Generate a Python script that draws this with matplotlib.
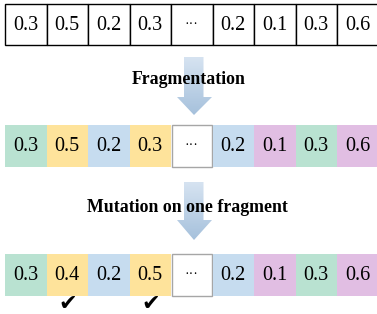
import matplotlib
matplotlib.use("Agg")
import matplotlib.pyplot as plt
import numpy as np
from matplotlib.patches import Rectangle, Polygon
from matplotlib.colors import LinearSegmentedColormap

# values in each row
original = ["0.3", "0.5", "0.2", "0.3", "···", "0.2", "0.1", "0.3", "0.6"]
fragmented = ["0.3", "0.5", "0.2", "0.3", "···", "0.2", "0.1", "0.3", "0.6"]
mutated = ["0.3", "0.4", "0.2", "0.5", "···", "0.2", "0.1", "0.3", "0.6"]
# fragment group of each cell
groups = ["green", "yellow", "blue", "yellow", "none", "blue", "purple", "green", "purple"]
changed = [1, 3]
step_labels = ["Fragmentation", "Mutation on one fragment"]

palette = {"green": "#b9e2d1", "yellow": "#fee39b", "blue": "#c6dcef",
           "purple": "#e1bee3", "none": "white"}

W, H = 377, 314
fig = plt.figure(figsize=(W / 100, H / 100), dpi=100)
ax = fig.add_axes([0, 0, 1, 1])
ax.set_xlim(0, W)
ax.set_ylim(H, 0)
ax.axis("off")

x0, cw = 5, 41.5
num_font = dict(family="Liberation Serif", fontsize=14.5, ha="center")


def draw_row(vals, y, h, colored):
    for i, v in enumerate(vals):
        x = x0 + i * cw
        if colored:
            g = groups[i]
            if g == "none":
                ax.add_patch(Rectangle((x + 0.5, y + 0.5), cw - 1, h - 1, facecolor="white",
                                       edgecolor="#a6a6a6", lw=1.0))
            else:
                ax.add_patch(Rectangle((x, y), cw, h, facecolor=palette[g], edgecolor="none"))
        else:
            ax.add_patch(Rectangle((x, y), cw, h, facecolor="white", edgecolor="black", lw=1.0))
        if v == "···":
            ax.text(x + cw / 2, y + h / 2 + 3.5, v, family="Liberation Serif", fontsize=10,
                    ha="center", va="baseline")
        else:
            ax.text(x + cw / 2, y + h / 2 + 1, v, va="center", **num_font)


def draw_arrow(top, head_top, tip):
    cx = 194
    pts = [(cx - 10, top), (cx + 9.5, top), (cx + 9.5, head_top), (cx + 18, head_top),
           (cx, tip), (cx - 17, head_top), (cx - 10, head_top)]
    poly = Polygon(pts, closed=True, facecolor="none", edgecolor="none")
    ax.add_patch(poly)
    grad = np.linspace(0, 1, 100).reshape(-1, 1)
    cmap = LinearSegmentedColormap.from_list("g", ["#d6e3f1", "#a6c1dc"])
    im = ax.imshow(grad, extent=(cx - 18, cx + 18, tip, top), cmap=cmap, aspect="auto", zorder=1)
    im.set_clip_path(poly)


draw_row(original, 4, 41, False)
draw_arrow(57, 97, 115)
ax.text(189, 79, step_labels[0], family="Liberation Serif", fontweight="bold",
        fontsize=12.8, ha="center", va="center", zorder=3)
draw_row(fragmented, 124.5, 42.5, True)
draw_arrow(182, 220, 240)
ax.text(187, 207, step_labels[1], family="Liberation Serif", fontweight="bold",
        fontsize=12.8, ha="center", va="center", zorder=3)
draw_row(mutated, 253.5, 42.5, True)

for i in changed:
    ax.text(x0 + i * cw + cw / 2 + 0.5, 304.5, "✔", family="DejaVu Sans", fontsize=16,
            ha="center", va="center", color="black")

fig.savefig("out.png", dpi=100)
